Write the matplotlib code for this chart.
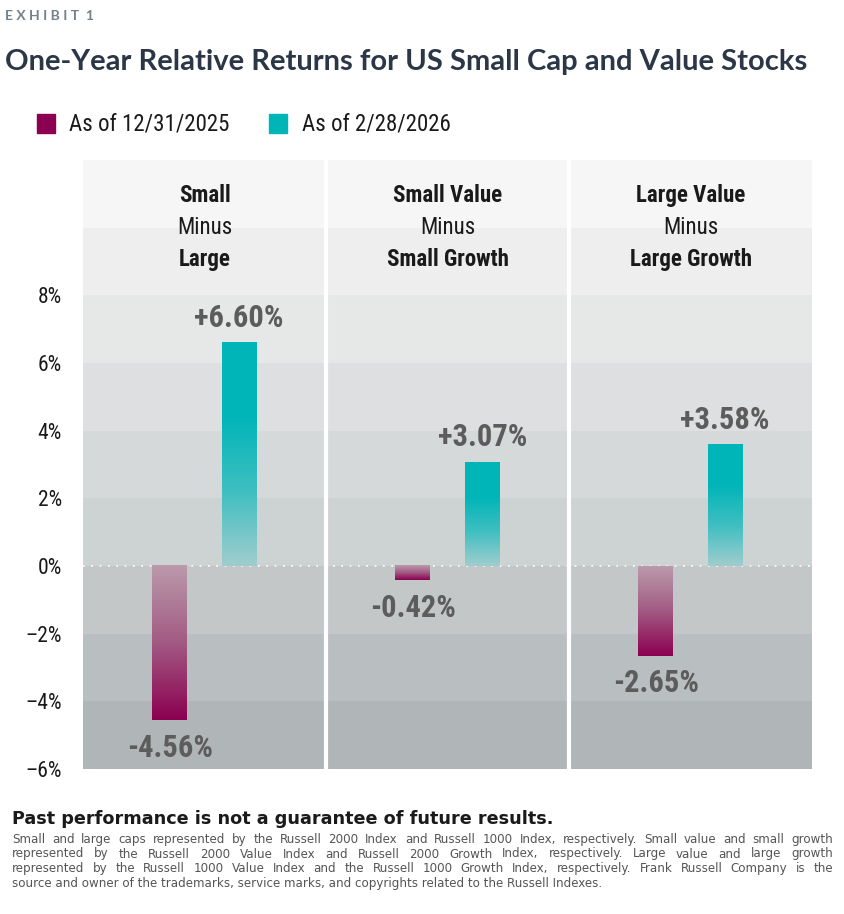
import numpy as np
import matplotlib
matplotlib.use("Agg")
import matplotlib.pyplot as plt
from matplotlib import font_manager
from matplotlib.colors import LinearSegmentedColormap

# pick a narrow font if there is one
names = {f.name for f in font_manager.fontManager.ttflist}
narrow = "DejaVu Sans"
for cand in ["Roboto Condensed", "Liberation Sans Narrow", "DejaVu Sans Condensed"]:
    if cand in names:
        narrow = cand
        break

# data
groups_top = ["Small", "Small Value", "Large Value"]
groups_bottom = ["Large", "Small Growth", "Large Growth"]
series_names = ["As of 12/31/2025", "As of 2/28/2026"]
dec_2025 = [-4.56, -0.42, -2.65]
feb_2026 = [6.60, 3.07, 3.58]
y_ticks = [-6, -4, -2, 0, 2, 4, 6, 8]

magenta = "#8b0050"
teal = "#00b5b8"
band_colors = ["#b0b6b7", "#b9bfc0", "#c3c7c8", "#cdd2d2", "#d6d9da",
               "#dedfe0", "#e6e7e7", "#eeeeee", "#f6f6f6"]

W, H = 844, 914
fig = plt.figure(figsize=(W / 100, H / 100), dpi=100)
ax = fig.add_axes([83 / W, 1 - 769 / H, 729 / W, 609 / H])
ax.set_xlim(0, 3)
ax.set_ylim(-6, 12)

# background bands
for i, c in enumerate(band_colors):
    ax.axhspan(-6 + 2 * i, -4 + 2 * i, color=c, lw=0, zorder=0)

# panel dividers
for xd in [1, 2]:
    ax.axvline(xd, color="white", lw=3, zorder=3)

# zero line
ax.axhline(0, color="white", lw=1.2, ls=(0, (1, 4)), zorder=4)

mag_cmap = LinearSegmentedColormap.from_list("m", ["#bb9aab", "#a25a83", magenta])
teal_cmap = LinearSegmentedColormap.from_list("t", ["#a0cdce", "#3fbfc1", teal, teal])
grad = np.linspace(0, 1, 256).reshape(-1, 1)

bw = 0.143
for i in range(3):
    for val, off, cmap in [(dec_2025[i], -bw, mag_cmap), (feb_2026[i], bw, teal_cmap)]:
        xc = i + 0.5 + off
        ax.imshow(grad, cmap=cmap, aspect="auto", extent=[xc - bw / 2, xc + bw / 2, 0, val],
                  origin="lower", zorder=5, interpolation="bilinear")
        lbl = f"+{val:.2f}%" if val > 0 else f"-{abs(val):.2f}%"
        ax.annotate(lbl, (xc, val), xytext=(0, 18 if val > 0 else -20),
                    textcoords="offset points", ha="center", va="center",
                    fontsize=22, fontweight="bold", color="#5c5c5c",
                    family=narrow, zorder=6)
ax.set_xlim(0, 3)
ax.set_ylim(-6, 12)

# panel headers
for i in range(3):
    ax.text(i + 0.5, 10.95, groups_top[i], ha="center", va="center", fontsize=16.5,
            fontweight="bold", family=narrow, color="#1a1a1a")
    ax.text(i + 0.5, 10.0, "Minus", ha="center", va="center", fontsize=16.5,
            family=narrow, color="#1a1a1a")
    ax.text(i + 0.5, 9.07, groups_bottom[i], ha="center", va="center", fontsize=16.5,
            fontweight="bold", family=narrow, color="#1a1a1a")

ax.set_yticks(y_ticks)
ax.set_yticklabels([f"{t}%".replace("-", "\u2013") for t in y_ticks],
                   fontsize=15.5, family=narrow, color="#1a1a1a")
ax.tick_params(axis="y", length=0, pad=15)
ax.set_xticks([])
for s in ax.spines.values():
    s.set_visible(False)

# header texts
fig.text(5 / W, 1 - 16 / H, "E X H I B I T  1", fontsize=10, fontweight="bold",
         color="#75808a", family="Lato", va="center")
fig.text(5 / W, 1 - 62 / H, "One-Year Relative Returns for US Small Cap and Value Stocks",
         fontsize=21, fontweight="bold", color="#2b3646", family="Lato", va="center")

# legend
for xs, xt, name, col in [(37, 69, series_names[0], magenta), (269, 302, series_names[1], teal)]:
    fig.patches.append(plt.Rectangle((xs / W, 1 - 133 / H), 18 / W, 19 / H,
                                     transform=fig.transFigure, color=col))
    fig.text(xt / W, 1 - 124 / H, name, fontsize=16.5, family=narrow,
             color="#1a1a1a", va="center")

# footnote
fig.text(12 / W, 1 - 819 / H, "Past performance is not a guarantee of future results.",
         fontsize=12.7, fontweight="bold", color="#1a1a1a", family="DejaVu Sans", va="center")
notes = [
    "Small and large caps represented by the Russell 2000 Index and Russell 1000 Index, respectively. Small value and small growth",
    "represented by the Russell 2000 Value Index and Russell 2000 Growth Index, respectively. Large value and large growth",
    "represented by the Russell 1000 Value Index and the Russell 1000 Growth Index, respectively. Frank Russell Company is the",
    "source and owner of the trademarks, service marks, and copyrights related to the Russell Indexes.",
]
note_kw = dict(fontsize=8.6, color="#555555", family="DejaVu Sans", va="baseline")
renderer = fig.canvas.get_renderer()
x0, x1 = 12, 833
for k, line in enumerate(notes):
    y = 1 - (843 + 14.5 * k) / H   # baseline
    if k == len(notes) - 1:
        fig.text(x0 / W, y, line, **note_kw)
        continue
    # justify the line across the full width
    words = line.split()
    widths = []
    for wd in words:
        t = fig.text(0, 0, wd, **note_kw)
        widths.append(t.get_window_extent(renderer).width)
        t.remove()
    gap = (x1 - x0 - sum(widths)) / (len(words) - 1)
    x = x0
    for wd, wpx in zip(words, widths):
        fig.text(x / W, y, wd, **note_kw)
        x += wpx + gap

fig.savefig("out.png", dpi=100)
